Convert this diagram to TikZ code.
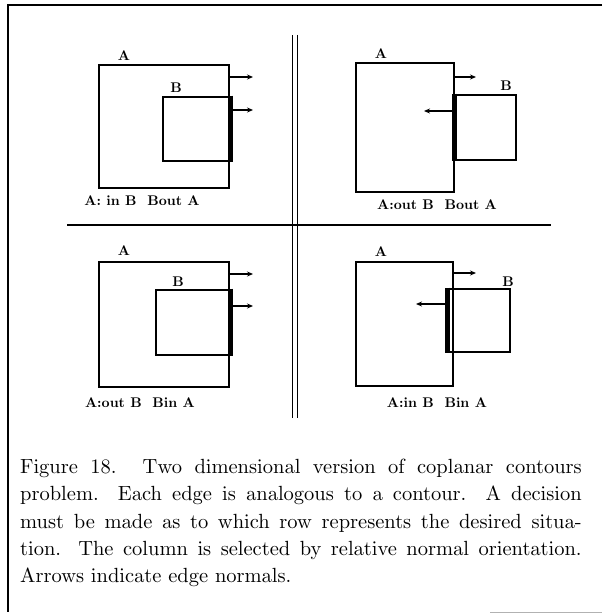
\documentclass[tikz,border=0pt]{standalone}
\usetikzlibrary{arrows.meta}
\font\capfont=cmr10 at 20.5pt
\font\lblfont=cmbx10 at 14pt
\begin{document}
\begin{tikzpicture}[x=1pt, y=-1pt,
  region/.style={draw, line width=2.7pt, inner sep=0pt},
  shared/.style={line width=5.5pt},
  normal/.style={line width=1.3pt, -{Stealth[length=6pt,width=5pt]}},
  lbl/.style={font=\lblfont, inner sep=0pt}]
  \useasboundingbox (0,0) rectangle (602,615);
  % Frame and dividers
  \draw[line width=1.5pt] (602,5) -- (8,5) -- (8,612);
  \draw[gray!60, line width=1pt] (490,612) -- (602,612);
  \draw[double, double distance=3.5pt, line width=0.8pt] (295,35) -- (295,418);
  \draw[line width=1.2pt] (67,225) -- (551,225);
  % Top left: A in B, B out A
  \node[region, minimum width=130pt, minimum height=123pt] (A1) at (164,126.5) {};
  \node[region, minimum width=66pt, minimum height=64pt] (B1) at (196,129) {};
  \draw[shared] (B1.north east) -- (B1.south east);
  \node[lbl] (la1) at (124,56) {A};
  \node[lbl] (lb1) at (176,88) {B};
  \coordinate (n1a) at (253,77);
  \coordinate (n1b) at (253,110);
  \draw[normal] (A1.east |- n1a) -- (n1a);
  \draw[normal] (B1.east |- n1b) -- (n1b);
  \node[lbl] (c1) at (142,201) {A: in B\ \ Bout A};
  % Top right: A out B, B out A
  \node[region, minimum width=98pt, minimum height=129pt] (A2) at (405,127.5) {};
  \node[region, minimum width=60pt, minimum height=65pt] (B2) at (486,127.5) {};
  \draw[shared] (B2.north west) -- (B2.south west);
  \node[lbl] (la2) at (381,54) {A};
  \node[lbl] (lb2) at (506,86) {B};
  \coordinate (n2a) at (476,77);
  \coordinate (n2b) at (424,111);
  \draw[normal] (A2.east |- n2a) -- (n2a);
  \draw[normal] (B2.west |- n2b) -- (n2b);
  \node[lbl] (c2) at (437,205) {A:out B\ \ Bout A};
  % Bottom left: A out B, B in A
  \node[region, minimum width=130pt, minimum height=125pt] (A3) at (164,324.5) {};
  \node[region, minimum width=73pt, minimum height=65pt] (B3) at (192.5,322.5) {};
  \draw[shared] (B3.north east) -- (B3.south east);
  \node[lbl] (la3) at (124,251) {A};
  \node[lbl] (lb3) at (178,282) {B};
  \coordinate (n3a) at (253,274);
  \coordinate (n3b) at (253,306);
  \draw[normal] (A3.east |- n3a) -- (n3a);
  \draw[normal] (B3.east |- n3b) -- (n3b);
  \node[lbl] (c3) at (140,403) {A:out B\ \ Bin A};
  % Bottom right: A in B, B in A
  \node[region, minimum width=97pt, minimum height=124pt] (A4) at (404.5,324) {};
  \node[region, minimum width=61pt, minimum height=63pt] (B4) at (479.5,320.5) {};
  \draw[shared] (B4.north west) -- (B4.south west);
  \node[lbl] (la4) at (381,252) {A};
  \node[lbl] (lb4) at (508,282) {B};
  \coordinate (n4a) at (476,273);
  \coordinate (n4b) at (416,304);
  \draw[normal] (A4.east |- n4a) -- (n4a);
  \draw[normal] (B4.west |- n4b) -- (n4b);
  \node[lbl] (c4) at (437,403) {A:in B\ \ Bin A};
  % Caption
  \node[anchor=north west, text width=562pt, align=justify, inner sep=0pt,
        font={\capfont\baselineskip=27.3pt\relax}] (cap) at (20,459)
    {Figure 18. Two dimensional version of coplanar contours\linebreak
     problem. Each edge is analogous to a contour. A decision\linebreak
     must be made as to which row represents the desired situa-\linebreak
     tion. The column is selected by relative normal orientation.\linebreak
     Arrows indicate edge normals.};
\end{tikzpicture}
\end{document}
